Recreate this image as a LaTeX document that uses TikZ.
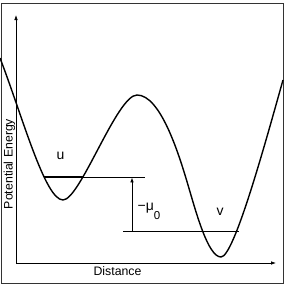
\documentclass[tikz,border=0pt]{standalone}
\usepackage{fontspec}
\setmainfont{Liberation Sans}
\usetikzlibrary{arrows.meta}
\begin{document}
\begin{tikzpicture}[x=1pt,y=-1pt,
  axis/.style={line width=0.8pt,-{Latex[length=5pt,width=3.6pt]}},
  level/.style={line width=0.8pt},
  lbl/.style={inner sep=0pt,font=\fontsize{14}{14}\selectfont},
  axlbl/.style={inner sep=0pt,font=\fontsize{12.3}{12.3}\selectfont}]
\useasboundingbox (0,0) rectangle (287,287);
\draw[line width=0.8pt, black!80] (1.5,3) rectangle (283,283.5);
\coordinate (O) at (16,263);
\coordinate (Ytip) at (16,15);
\coordinate (Xtip) at (276,263);
\draw[axis] (O) -- (Ytip);
\draw[axis] (O) -- (Xtip);
\draw[line width=1.4pt] (0,58) .. controls (22,115) and (45,200) .. (63,200)
 .. controls (80,200) and (117,95) .. (137,95)
 .. controls (160,95) and (178,151) .. (188,185)
 .. controls (196,212) and (208,257) .. (221,257)
 .. controls (234,257) and (265,144) .. (283,80);
\coordinate (u1) at (44,177);
\coordinate (u2) at (83,177);
\coordinate (u3) at (145,177);
\coordinate (v1) at (123,231);
\coordinate (v2) at (239,231);
\coordinate (a0) at (132,231);
\coordinate (a1) at (132,177.4);
\draw[level] (u1) -- (u3);
\draw[line width=1.5pt] (u1) -- (u2);
\draw[level] (v1) -- (v2);
\draw[axis] (a0) -- (a1);
\node[lbl] (ulab) at (60.5,156) {u};
\node[lbl] (vlab) at (220,211.5) {v};
\node[lbl, anchor=base west] (mulab) at (137.5,210.5) {−μ\raisebox{-8.5pt}{\fontsize{11.5}{11.5}\selectfont 0}};
\node[axlbl, rotate=90] (ylab) at (9.5,164) {Potential Energy};
\node[axlbl] (xlab) at (117.5,271.5) {Distance};
\end{tikzpicture}
\end{document}
